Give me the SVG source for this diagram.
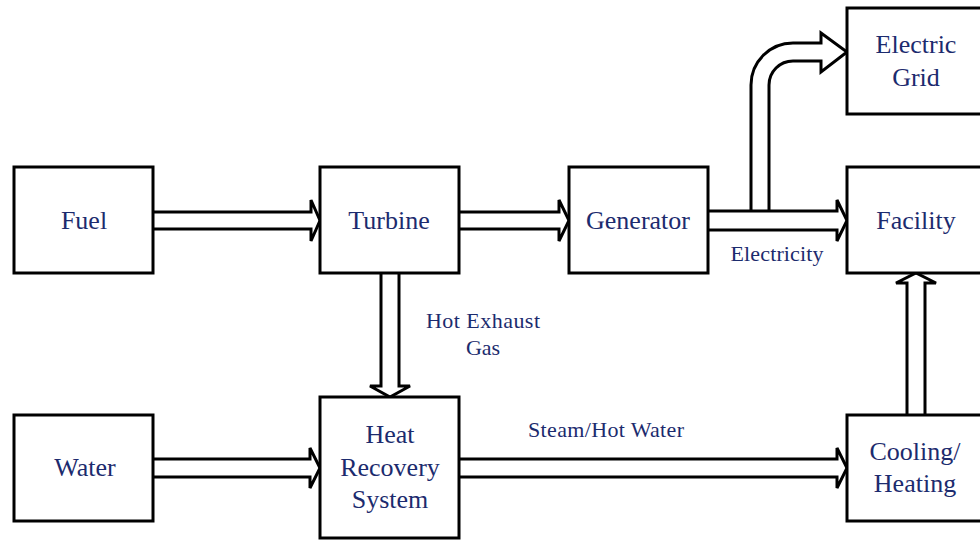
<svg xmlns="http://www.w3.org/2000/svg" width="980" height="540" viewBox="0 0 980 540">
<style>
.box{fill:#fff;stroke:#000;stroke-width:3}
.arr{fill:#fff;stroke:#000;stroke-width:3;stroke-linejoin:miter}
.t{font-family:"Liberation Serif","Times New Roman",serif;font-size:26px;fill:#1c2b6e;text-anchor:middle}
.s{font-family:"Liberation Serif","Times New Roman",serif;font-size:22px;fill:#1c2b6e;text-anchor:middle}
</style>
<rect width="980" height="540" fill="#fff"/>
<g id="connectors">
<path class="arr" d="M153,212 H311 V200 L320,220.5 L311,241 V229 H153"/>
<path class="arr" d="M459,212 H559 V200 L569,220.5 L559,241 V229 H459"/>
<path class="arr" d="M751,211 V85 A42,42 0 0 1 793,43 H821 V33 L847,52 L821,72 V61 H793 A24,24 0 0 0 769,85 V211"/>
<path class="arr" d="M708,211 H837 V200 L847,220.5 L837,241 V230 H708"/>
<path class="arr" d="M381,273 V386 H370 L390,397 L410,386 H399 V273"/>
<path class="arr" d="M153,459 H310 V448 L320,468 L310,488 V477 H153"/>
<path class="arr" d="M459,459 H837 V448 L847,468 L837,488 V477 H459"/>
<path class="arr" d="M907,415 V283 H896 L916,273 L936,283 H925 V415"/>
<text class="s" x="777" y="261" textLength="93">Electricity</text>
<text class="s" x="483" y="328" textLength="114">Hot Exhaust</text>
<text class="s" x="483" y="355">Gas</text>
<text class="s" x="606" y="437" textLength="156">Steam/Hot Water</text>
</g>
<g id="fuel"><rect class="box" x="14" y="167" width="139" height="106"/><text class="t" x="84" y="229">Fuel</text></g>
<g id="turbine"><rect class="box" x="320" y="167" width="139" height="106"/><text class="t" x="389" y="229">Turbine</text></g>
<g id="generator"><rect class="box" x="569" y="167" width="139" height="106"/><text class="t" x="638" y="229">Generator</text></g>
<g id="facility"><rect class="box" x="847" y="167" width="139" height="106"/><text class="t" x="916" y="229">Facility</text></g>
<g id="electric-grid"><rect class="box" x="847" y="8" width="139" height="106"/><text class="t" x="916" y="53">Electric</text><text class="t" x="916" y="86">Grid</text></g>
<g id="water"><rect class="box" x="14" y="415" width="139" height="106"/><text class="t" x="85" y="476">Water</text></g>
<g id="heat-recovery"><rect class="box" x="320" y="397" width="139" height="141"/><text class="t" x="390" y="443">Heat</text><text class="t" x="390" y="476">Recovery</text><text class="t" x="390" y="508">System</text></g>
<g id="cooling-heating"><rect class="box" x="847" y="415" width="139" height="106"/><text class="t" x="915" y="460">Cooling/</text><text class="t" x="915" y="492">Heating</text></g>
</svg>
